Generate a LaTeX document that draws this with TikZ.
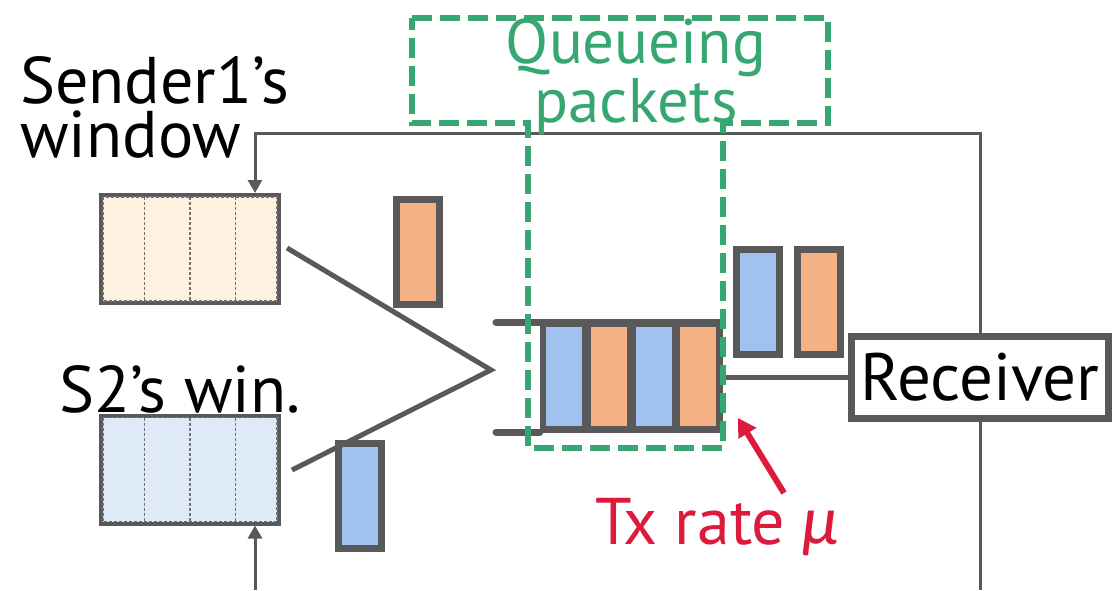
\documentclass[tikz,border=0pt]{standalone}
\usepackage{fontspec}
\setmainfont{PT Sans}
\newfontfamily\greekit{Lato Italic}
\usetikzlibrary{arrows.meta,calc}
\definecolor{edge}{HTML}{595959}
\definecolor{pktorange}{HTML}{F4B183}
\definecolor{pktblue}{HTML}{A1C1EE}
\definecolor{winorange}{HTML}{FEF1DF}
\definecolor{winblue}{HTML}{DFEAF9}
\definecolor{qgreen}{HTML}{36A771}
\definecolor{txred}{HTML}{DC1A3C}
\tikzset{
  label text/.style={inner sep=0pt, anchor=base west, font=\fontsize{66}{54}\selectfont},
  winbox/.style={draw=edge, line width=4pt, minimum width=178pt, minimum height=108pt, inner sep=0pt},
  cellline/.style={draw=edge!85, line width=1.2pt, dash pattern=on 3pt off 2pt},
  packet/.style={draw=edge, line width=7pt, minimum width=43pt, minimum height=105pt, inner sep=0pt},
  qcell/.style={minimum width=36pt, minimum height=99pt, inner sep=0pt},
  feedback/.style={draw=edge, line width=3pt},
  wire/.style={draw=edge, line width=5pt},
  qdash/.style={draw=qgreen, line width=6pt, dash pattern=on 20pt off 8pt},
}
\begin{document}
\begin{tikzpicture}[x=1pt,y=-1pt]
\useasboundingbox (0,0) rectangle (1112,590);

% sender windows
\node[winbox, fill=winorange] (win1) at (190,249) {};
\node[winbox, fill=winblue]   (win2) at (190,469.5) {};
\foreach \w in {win1,win2}{
  \draw[cellline] ([shift={(4,4)}]\w.north west) rectangle ([shift={(-4,-4)}]\w.south east);
  \foreach \f in {0.25,0.5,0.75}
    \draw[cellline] ($(\w.north west)!\f!(\w.north east)+(0,4)$) -- ($(\w.south west)!\f!(\w.south east)+(0,-4)$);
}

% labels
\node[label text, align=left] (s1) at (20,157) {Sender1’s\\window};
\node[label text] (s2)  at (59,412) {S2’s win.};

% packets in flight
\node[packet, fill=pktorange] (p1) at (418,251.5) {};
\node[packet, fill=pktblue]   (p2) at (359.5,496) {};
\node[packet, fill=pktblue]   (p3) at (758,302) {};
\node[packet, fill=pktorange] (p4) at (819,302) {};

% merging wires
\coordinate (m1) at (287,248);
\coordinate (m2) at (292,470);
\coordinate (apex) at (491,370);
\draw[wire, line join=miter] (m1) -- (apex) -- (m2);

% queue
\coordinate (qt) at (496,322);
\coordinate (qb) at (496,432);
\node[fill=edge, minimum width=183pt, minimum height=114pt, inner sep=0pt] (queue) at (631.5,376) {};
\node[qcell, fill=pktblue]   (q1) at (564,376.5) {};
\node[qcell, fill=pktorange] (q2) at (609,376.5) {};
\node[qcell, fill=pktblue]   (q3) at (653.5,376.5) {};
\node[qcell, fill=pktorange] (q4) at (698,376.5) {};
\draw[draw=edge, line width=7pt, line cap=round] (qt) -- (qt -| queue.west);
\draw[draw=edge, line width=7pt, line cap=round] (qb) -- (qb -| queue.west);

% receiver and feedback paths
\coordinate (fbtop) at (980,133);
\coordinate (fbbot) at (980,590);
\coordinate (ack2) at (255,590);
\coordinate (ack1) at (255,133);
\draw[feedback, -{Triangle[length=13pt,width=14pt]}] (fbbot) -- (fbtop) -- (ack1) -- (win1.north -| ack1);
\draw[feedback, -{Triangle[length=13pt,width=14pt]}] (ack2) -- (win2.south -| ack2);
\node[draw=edge, line width=7pt, fill=white, minimum width=257pt, minimum height=82pt, inner sep=0pt,
      font=\fontsize{67}{67}\selectfont] (recv) at (980,377.5) {Receiver};
\draw[wire] (queue.east |- recv.west) -- (recv.west);

% queueing region
\draw[qdash] (412,18) -- (828,18) -- (828,123) -- (723,123) -- (723,448) -- (528,448) -- (528,123) -- (412,123) -- cycle;
\node[inner sep=0pt, anchor=base, text=qgreen, align=center, font=\fontsize{63}{52}\selectfont] (qlabel) at (636,122) {Queueing\\packets};

% transmission rate
\node[label text, text=txred] (tx) at (595,544) {Tx rate {\greekit μ}};
\draw[draw=txred, line width=6pt, -{Triangle[length=18pt,width=20pt]}] (784,493) -- (738,418);
\end{tikzpicture}
\end{document}
